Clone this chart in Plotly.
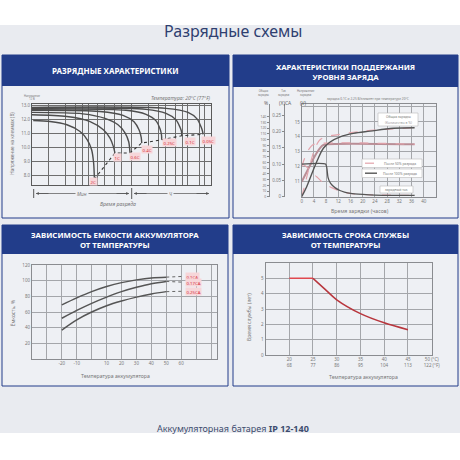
import numpy as np
import plotly.graph_objects as go

W = H = 460
FONT = "Noto Sans"

def fx(px):
    return px / W

def fy(py):
    return 1 - py / H

# ---------------- DATA ----------------
# Top-left: discharge curves (time, minutes; terminal voltage, V)
dis_names = ["2C", "1C", "0.6C", "0.4C", "0.25C", "0.1C", "0.05C"]
t_2C = [1.05, 2.1, 4.2, 7.2, 9.7, 11.6, 12.6, 13.0]
v_2C = [11.92, 11.85, 11.62, 11.14, 10.55, 9.84, 8.9, 7.75]
t_1C = [1.0, 4.2, 10.9, 18.8, 24.7, 28.3, 30.3]
v_1C = [12.33, 12.21, 11.85, 11.26, 10.67, 10.08, 9.61]
t_06C = [1.0, 8.1, 20.1, 34.3, 45.8, 53.3, 56.2]
v_06C = [12.5, 12.4, 12.08, 11.62, 11.05, 10.41, 9.61]
t_04C = [1.0, 16.4, 42.2, 66.3, 81.4, 89.1, 91.0]
v_04C = [12.65, 12.57, 12.29, 11.83, 11.26, 10.73, 10.32]
t_025C = [1.0, 47.7, 108.6, 164, 193, 205, 207]
v_025C = [12.72, 12.65, 12.36, 11.9, 11.33, 10.91, 10.55]
t_01C = [1.0, 108.6, 247, 373, 439, 468, 471]
v_01C = [12.79, 12.72, 12.43, 11.97, 11.44, 11.12, 10.84]
t_005C = [1.0, 247, 611, 884, 1042, 1109, 1132]
v_005C = [12.86, 12.79, 12.5, 12.04, 11.48, 11.16, 10.94]
cut_t = [13.0, 30.3, 56.2, 91, 207, 471, 1132]
cut_v = [7.75, 9.61, 9.61, 10.32, 10.55, 10.84, 10.94]
lab_t = [12.3, 34.3, 69, 112, 283, 663, 1389]
lab_v = [7.57, 9.28, 9.37, 9.89, 10.36, 10.43, 10.50]
dis_grid_t = [2, 4, 6, 8, 10, 15, 20, 30, 40, 60, 120, 180, 240, 360, 480, 600, 960, 1200]
dis_yticks = [8, 9, 10, 11, 12, 13]
dis_yticktext = ["8.0", "9.0", "10.0", "11.0", "12.0", "13.0"]

# Top-right: float charge characteristics (hours)
vlt100_h = [0, 1, 2, 3, 4, 5, 6, 7, 8, 37]
vlt100_v = [11.0, 11.4, 11.8, 12.2, 12.6, 12.95, 13.25, 13.45, 13.5, 13.5]
vlt50_h = [0, 1, 2, 3, 4, 37]
vlt50_v = [12.0, 12.6, 13.05, 13.35, 13.5, 13.5]
cur100_h = [0, 7.8, 8.2, 8.6, 9.2, 10, 11, 12.5, 14, 16, 20, 24, 30, 37]
cur100_ca = [0.1, 0.1, 0.09, 0.06, 0.045, 0.035, 0.027, 0.019, 0.014, 0.01, 0.007, 0.005, 0.004, 0.004]
cur50_h = [0, 1.6, 3, 4.9, 6.5, 8.2, 10, 11.5, 13.5, 15.8, 20, 26, 37]
cur50_ca = [0.1, 0.092, 0.075, 0.061, 0.047, 0.036, 0.027, 0.021, 0.015, 0.010, 0.007, 0.005, 0.004]
tot100_h = [0, 1.6, 3.8, 5.4, 7.1, 9.3, 12.6, 16.9, 22.4, 30, 37]
tot100_p = [0, 17, 47, 67, 85, 96, 105, 111, 115, 120, 121]
tot50_h = [0, 1, 2, 3, 4, 5, 6, 8, 12, 20, 30, 37]
tot50_p = [0, 20, 42, 62, 80, 92, 100, 105, 109, 115, 119, 121]
chg_hours = [0, 4, 8, 12, 16, 20, 24, 28, 32, 36, 40, 44]
chg_volts = [11, 12, 13, 14, 15, 16]
chg_ca = [0, 0.05, 0.10, 0.15, 0.20, 0.25]
chg_pct = [0, 10, 20, 30, 40, 50, 60, 70, 80, 90, 100, 110, 120, 130, 140]

# Bottom-left: capacity vs temperature
cap_temp = [-20, -10, 0, 10, 20, 30, 40, 50]
cap_01CA = [69, 78, 86, 92.5, 97.5, 101, 103.5, 104.5]
cap_017CA = [52, 62, 71, 79, 86, 91.5, 96, 99]
cap_025CA = [37, 50, 60, 68, 74, 79, 83, 86]
cap_names = ["0.1CA", "0.17CA", "0.25CA"]
cap_lab_y = [105.5, 98, 86.5]
cap_xticks = [-40, -30, -20, -10, 0, 10, 20, 30, 40, 50, 60, 70, 80]
cap_xtext = ["", "", "-20", "-10", "", "10", "20", "30", "40", "50", "60", "", ""]
cap_yticks = [0, 20, 40, 60, 80, 100, 120]
cap_ytext = ["", "20", "40", "60", "80", "100", "120"]

# Bottom-right: service life vs temperature
life_flat_t = [20, 25]
life_flat_y = [5, 5]
life_t = [25, 27.5, 30, 35, 40, 45]
life_y = [5, 4.3, 3.6, 2.7, 2.1, 1.65]
life_xticks = [20, 25, 30, 35, 40, 45, 50]
life_xtext = ["20<br>68", "25<br>77", "30<br>86", "35<br>95", "40<br>104", "45<br>113", "50 (°C)<br>122 (°F)"]
life_yticks = [0, 1, 2, 3, 4, 5, 6]
life_ytext = ["0", "1", "2", "3", "4", "5", ""]

# ---------------- STYLE ----------------
NAVY = "#223d8a"
PAGE = "#e9ebf0"
PANEL = "#eef0f4"
TICK = dict(size=4.5, color="#777", family=FONT)


def rect(x0, y0, x1, y1, fill, line=None, lw=0, layer="below"):
    return dict(type="rect", xref="paper", yref="paper", x0=fx(x0), x1=fx(x1),
                y0=fy(y1), y1=fy(y0), fillcolor=fill,
                line=dict(color=line or fill, width=lw), layer=layer)


def hline(x0, x1, y, color, width=1, dash="solid"):
    return dict(type="line", xref="paper", yref="paper", x0=fx(x0), x1=fx(x1),
                y0=fy(y), y1=fy(y), line=dict(color=color, width=width, dash=dash), layer="above")


def vline(x, y0, y1, color, width=1):
    return dict(type="line", xref="paper", yref="paper", x0=fx(x), x1=fx(x),
                y0=fy(y1), y1=fy(y0), line=dict(color=color, width=width), layer="above")


def txt(px, py, s, size, color="#666", **kw):
    d = dict(x=fx(px), y=fy(py), xref="paper", yref="paper", text=s, showarrow=False,
             xanchor="center", yanchor="middle",
             font=dict(size=size, color=color, family=FONT))
    d.update(kw)
    return d


def axis(**kw):
    base = dict(showgrid=True, gridcolor="#a4a6aa", gridwidth=1, zeroline=False,
                showline=True, linecolor="#8a8c90", linewidth=1, mirror=True,
                ticks="", tickfont=TICK, fixedrange=True, automargin=False)
    base.update(kw)
    return base


fig = go.Figure()

# --- Top-left traces
dis_t = [t_2C, t_1C, t_06C, t_04C, t_025C, t_01C, t_005C]
dis_v = [v_2C, v_1C, v_06C, v_04C, v_025C, v_01C, v_005C]
for t, v in zip(dis_t, dis_v):
    fig.add_trace(go.Scatter(x=t, y=v, xaxis="x", yaxis="y", mode="lines",
                             line=dict(color="#4d4d4d", width=1.4, shape="spline", smoothing=0.8),
                             hoverinfo="skip"))
fig.add_trace(go.Scatter(x=cut_t, y=cut_v, xaxis="x", yaxis="y", mode="lines",
                         line=dict(color="#333", width=1.1, dash="dot"), hoverinfo="skip"))

# --- Top-right traces
fig.add_trace(go.Scatter(x=vlt100_h, y=vlt100_v, xaxis="x2", yaxis="y2", mode="lines",
                         line=dict(color="#b98e96", width=2, shape="spline"), hoverinfo="skip"))
fig.add_trace(go.Scatter(x=vlt50_h, y=vlt50_v, xaxis="x2", yaxis="y2", mode="lines",
                         line=dict(color="#e3a3ab", width=1.2, dash="dash", shape="spline"), hoverinfo="skip"))
fig.add_trace(go.Scatter(x=cur50_h, y=cur50_ca, xaxis="x2", yaxis="y3", mode="lines",
                         line=dict(color="#e3a3ab", width=1.2, dash="dash", shape="spline"), hoverinfo="skip"))
fig.add_trace(go.Scatter(x=cur100_h, y=cur100_ca, xaxis="x2", yaxis="y3", mode="lines",
                         line=dict(color="#555", width=1.3, shape="spline", smoothing=0.6), hoverinfo="skip"))
fig.add_trace(go.Scatter(x=tot50_h, y=tot50_p, xaxis="x2", yaxis="y4", mode="lines",
                         line=dict(color="#e3a3ab", width=1.2, dash="dash", shape="spline"), hoverinfo="skip"))
fig.add_trace(go.Scatter(x=tot100_h, y=tot100_p, xaxis="x2", yaxis="y4", mode="lines",
                         line=dict(color="#555", width=1.4, shape="spline"), hoverinfo="skip"))

# --- Bottom-left traces
for vals in (cap_01CA, cap_017CA, cap_025CA):
    fig.add_trace(go.Scatter(x=cap_temp, y=vals, xaxis="x3", yaxis="y5", mode="lines",
                             line=dict(color="#555", width=1.5, shape="spline"), hoverinfo="skip"))
for vals, ly in zip((cap_01CA, cap_017CA, cap_025CA), cap_lab_y):
    fig.add_trace(go.Scatter(x=[cap_temp[-1], 62], y=[vals[-1], ly], xaxis="x3", yaxis="y5",
                             mode="lines", line=dict(color="#666", width=1, dash="dot"),
                             hoverinfo="skip"))

# --- Bottom-right traces
fig.add_trace(go.Scatter(x=life_flat_t, y=life_flat_y, xaxis="x4", yaxis="y6", mode="lines",
                         line=dict(color="#e0484f", width=1.5), hoverinfo="skip"))
fig.add_trace(go.Scatter(x=life_t, y=life_y, xaxis="x4", yaxis="y6", mode="lines",
                         line=dict(color="#b8363d", width=1.5, shape="spline"), hoverinfo="skip"))

# ---------------- SHAPES ----------------
shapes = [
    rect(0, 25, 460, 433, PAGE),
    rect(2, 55, 229, 218, PANEL, NAVY, 1),
    rect(233, 55, 458, 218, PANEL, NAVY, 1),
    rect(2, 225, 228, 386, PANEL, NAVY, 1),
    rect(233, 225, 458, 386, PANEL, NAVY, 1),
    rect(2, 55, 229, 86, NAVY),
    rect(233, 55, 458, 87, NAVY),
    rect(2, 225, 228, 254, NAVY),
    rect(233, 225, 458, 254, NAVY),
    # TL time-axis arrows
    vline(33.7, 189, 198, "#555", 1),
    vline(131.7, 188, 199, "#555", 1),
    hline(36, 129, 193.5, "#666", 0.8),
    hline(134, 209, 193.5, "#666", 0.8),
    # TR legend boxes
    rect(378, 113, 418, 126, "#ffffff", "#bbb", 0.6, "above"),
    rect(362, 159, 422, 167.5, "#ffffff", "#bbb", 0.6, "above"),
    rect(362, 169, 422, 177.5, "#ffffff", "#bbb", 0.6, "above"),
    rect(380, 186, 413, 193, "#ffffff", "#bbb", 0.6, "above"),
    hline(365, 377, 163.2, "#e3a3ab", 1.2, "dash"),
    hline(365, 377, 173.2, "#555", 1.4),
]

# ---------------- ANNOTATIONS ----------------
ann = [
    txt(233, 31, "Разрядные схемы", 16, "#2f3f70"),
    txt(233, 428, "Аккумуляторная батарея <b>IP 12-140</b>", 9, "#3d4b6e"),
    txt(115.5, 70.5, "<b>РАЗРЯДНЫЕ ХАРАКТЕРИСТИКИ</b>", 8, "#ffffff"),
    txt(345.5, 71.5, "<b>ХАРАКТЕРИСТИКИ ПОДДЕРЖАНИЯ<br>УРОВНЯ ЗАРЯДА</b>", 7.8, "#ffffff"),
    txt(115, 239.5, "<b>ЗАВИСИМОСТЬ ЕМКОСТИ АККУМУЛЯТОРА<br>ОТ ТЕМПЕРАТУРЫ</b>", 7.8, "#ffffff"),
    txt(345.5, 239.5, "<b>ЗАВИСИМОСТЬ СРОКА СЛУЖБЫ<br>ОТ ТЕМПЕРАТУРЫ</b>", 7.8, "#ffffff"),
    # TL texts
    txt(213, 98, "<i>Температура: 20°C (77°F)</i>", 5, "#777", xanchor="right"),
    txt(32, 97, "Напряжение<br>12 В", 2.6, "#777"),
    txt(11.7, 143, "Напряжение на клеммах (В)", 4.6, "#777", textangle=-90),
    txt(82, 193.5, "<i>Мин</i>", 4.8, "#777", bgcolor=PANEL),
    txt(170, 193.5, "<i>Ч</i>", 4.8, "#777", bgcolor=PANEL),
    txt(118.3, 204, "<i>Время разряда</i>", 5.2, "#777"),
    # TR texts
    txt(263, 93, "Общая<br>зарядка", 2.8, "#777"),
    txt(283, 93, "Ток<br>зарядки", 2.8, "#777"),
    txt(306, 93, "Напряжение<br>зарядки", 2.8, "#777"),
    txt(265.5, 103.5, "%", 5, "#666"),
    txt(285, 103.5, "(X)CA", 5, "#666"),
    txt(303.5, 103.5, "(V)", 5, "#666"),
    txt(368, 98.5, "зарядка 0.1С и 2.25 В/элемент при температуре 20°С", 3.2, "#777"),
    txt(398, 117, "Общая зарядка", 3.3, "#777"),
    txt(398, 122, "(Количество в %)", 3.3, "#999"),
    txt(400, 163.2, "После 50% разряда", 3.4, "#777"),
    txt(400, 173.2, "После 100% разряда", 3.4, "#777"),
    txt(396.5, 189.5, "зарядный ток", 3.4, "#777"),
    txt(360, 210.7, "Время зарядки (часов)", 5.2, "#777"),
    # BL texts
    txt(13.3, 313, "Ёмкость, %", 5, "#777", textangle=-90),
    txt(115, 376, "Температура аккумулятора", 5.2, "#777"),
    # BR texts
    txt(248.3, 316.7, "Время службы (лет)", 5, "#777", textangle=-90),
    txt(363.3, 376.7, "Температура аккумулятора", 5.2, "#777"),
]

# TL arrowheads
for x, ax in ((36, 14), (129, -14), (134, 14), (209, -14)):
    ann.append(dict(x=fx(x), y=fy(193.5), xref="paper", yref="paper", text="",
                    showarrow=True, arrowhead=2, arrowsize=0.7, arrowwidth=0.8,
                    arrowcolor="#555", ax=ax, ay=0))

# TL curve labels (log axis: x given in log10 units)
for name, t, v in zip(dis_names, lab_t, lab_v):
    ann.append(dict(x=np.log10(t), y=v, xref="x", yref="y", text=name, showarrow=False,
                    xanchor="center", yanchor="middle",
                    font=dict(size=4.3, color="#d6303a", family=FONT),
                    bgcolor="#f7d6d9", borderpad=0.6))

# BL curve labels
for name, ly in zip(cap_names, cap_lab_y):
    ann.append(dict(x=62.5, y=ly, xref="x3", yref="y5", text=name, showarrow=False,
                    xanchor="left", yanchor="middle",
                    font=dict(size=4.3, color="#d6303a", family=FONT),
                    bgcolor="#f7d6d9", borderpad=0.5))

# ---------------- LAYOUT ----------------
fig.update_layout(
    width=W, height=H, margin=dict(l=0, r=0, t=0, b=0, autoexpand=False),
    paper_bgcolor="#ffffff", plot_bgcolor="rgba(0,0,0,0)",
    showlegend=False, font=dict(family=FONT),
    shapes=shapes, annotations=ann,
    # top-left
    xaxis=axis(type="log", range=[0, 3.196], domain=[fx(32), fx(211)], anchor="y",
               tickvals=dis_grid_t, showticklabels=False,
               gridcolor="#6e6e6e", gridwidth=1.2, linecolor="#5a5a5a"),
    yaxis=axis(range=[7.33, 13.1], domain=[fy(185), fy(104)], anchor="x",
               tickvals=dis_yticks, ticktext=dis_yticktext,
               gridcolor="#6e6e6e", gridwidth=1.2, linecolor="#5a5a5a"),
    # top-right
    xaxis2=axis(range=[0, 44], domain=[fx(301.7), fx(436)], anchor="y2",
                tickvals=chg_hours, ticktext=[str(h) if h < 44 else "" for h in chg_hours]),
    yaxis2=axis(range=[10, 16.2], domain=[fy(196.7), fy(104)], anchor="x2",
                tickvals=chg_volts, ticktext=[str(v) if v < 16 else "" for v in chg_volts]),
    yaxis3=axis(range=[0, 0.284], overlaying="y2", anchor="free", position=fx(284),
                tickvals=chg_ca, ticktext=["0", "0.05", "0.10", "0.15", "0.20", "0.25"],
                showgrid=False, mirror=False, ticks="outside", ticklen=2, tickcolor="#888",
                side="left"),
    yaxis4=axis(range=[0, 162.6], overlaying="y2", anchor="free", position=fx(269),
                tickvals=chg_pct, showgrid=False, mirror=False, ticks="outside", ticklen=2,
                tickcolor="#888", side="left", tickfont=dict(size=3.4, color="#777", family=FONT)),
    # bottom-left
    xaxis3=axis(range=[-40, 84], domain=[fx(32), fx(217)], anchor="y5",
                tickvals=cap_xticks, ticktext=cap_xtext),
    yaxis5=axis(range=[0, 120], domain=[fy(359), fy(265)], anchor="x3",
                tickvals=cap_yticks, ticktext=cap_ytext),
    # bottom-right
    xaxis4=axis(range=[15, 50], domain=[fx(265.5), fx(431.7)], anchor="y6",
                tickvals=life_xticks, ticktext=life_xtext),
    yaxis6=axis(range=[0, 6], domain=[fy(355), fy(263)], anchor="x4",
                tickvals=life_yticks, ticktext=life_ytext),
)

fig.write_html("out.html", config={"displayModeBar": False},
               post_script="document.body.style.margin='0';")
